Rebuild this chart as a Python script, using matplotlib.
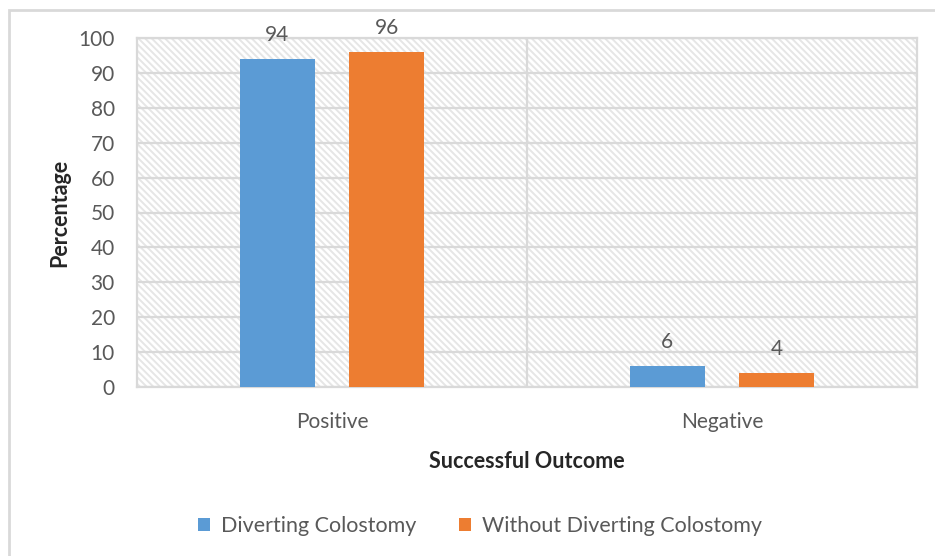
import matplotlib
matplotlib.use("Agg")
import matplotlib.pyplot as plt
import numpy as np
from matplotlib.patches import Rectangle

categories = ["Positive", "Negative"]
series_names = ["Diverting Colostomy", "Without Diverting Colostomy"]
diverting = [94, 6]
without = [96, 4]
colors = ["#5B9BD5", "#ED7D31"]
yticks = [0, 10, 20, 30, 40, 50, 60, 70, 80, 90, 100]

plt.rcParams['font.family'] = ['Lato', 'DejaVu Sans']
plt.rcParams['hatch.linewidth'] = 1.4
plt.rcParams['hatch.color'] = '#e6e6e6'
txt = '#595959'
grid = '#d9d9d9'

fig = plt.figure(figsize=(9.35, 5.56), dpi=100)
# outer frame (left and top lines visible)
fig.patches.append(Rectangle((9/935, -0.1), 1.2, 1 - 10/556 + 0.1, transform=fig.transFigure,
                             fill=False, edgecolor=grid, linewidth=2.0, zorder=0))

ax = fig.add_axes([137/935, 1 - 387/556, (917-137)/935, (387-38)/556])
ax.set_xlim(-0.5, 1.5)
ax.set_ylim(0, 100)
ax.set_facecolor('white')
# hatched background
ax.add_patch(Rectangle((0, 0), 1, 1, transform=ax.transAxes, facecolor='white',
                       hatch='\\\\\\\\\\', edgecolor='#e6e6e6', linewidth=0, zorder=0))

for y in yticks:
    ax.axhline(y, color=grid, linewidth=1.6, zorder=1)
ax.axvline(0.5, color=grid, linewidth=1.6, zorder=1)

x = np.arange(len(categories))
w = 0.193
off = 0.14
b1 = ax.bar(x - off, diverting, w, color=colors[0], zorder=3, label=series_names[0])
b2 = ax.bar(x + off, without, w, color=colors[1], zorder=3, label=series_names[1])
for bars, vals in ((b1, diverting), (b2, without)):
    for r, v in zip(bars, vals):
        ax.text(r.get_x() + r.get_width()/2, v + 4.0, f"{v}", ha='center', va='bottom',
                fontsize=15, color=txt, clip_on=False)

for s in ax.spines.values():
    s.set_color(grid)
    s.set_linewidth(1.6)

ax.set_yticks(yticks)
ax.set_xticks(x)
ax.set_xticklabels(categories)
ax.tick_params(axis='both', length=0, labelsize=15, labelcolor=txt)
ax.tick_params(axis='y', pad=16)
ax.tick_params(axis='x', pad=18)
ax.set_xlabel("Successful Outcome", fontsize=15.5, fontweight='bold', color='#262626', labelpad=14)
ax.set_ylabel("Percentage", fontsize=15.5, fontweight='bold', color='#262626', labelpad=6)

fig.legend(handles=[b1, b2], loc='center', bbox_to_anchor=(480/935, 1 - 526/556), ncol=2,
           frameon=False, fontsize=15.5, labelcolor=txt, handlelength=0.55, handleheight=0.55,
           columnspacing=2.0, handletextpad=0.5)

fig.savefig("out.png", dpi=100)
